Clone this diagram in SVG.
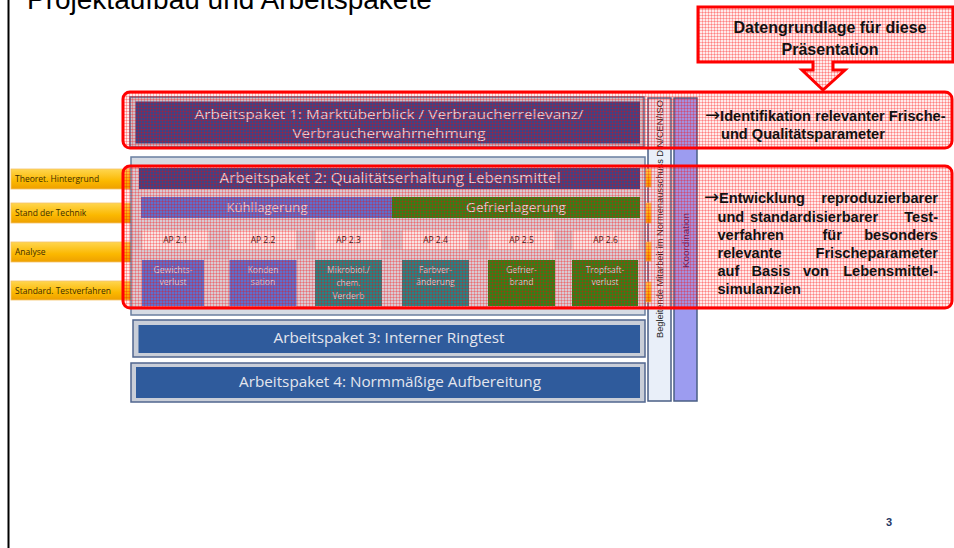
<svg xmlns="http://www.w3.org/2000/svg" width="954" height="548" viewBox="0 0 954 548">
<defs>
<pattern id="pink" width="3" height="3" patternUnits="userSpaceOnUse">
<rect width="3" height="3" fill="#ff0000" fill-opacity="0.08"/>
<rect width="3" height="1" fill="#ff0000" fill-opacity="0.26"/>
<rect width="1" height="3" fill="#ff0000" fill-opacity="0.26"/>
</pattern>
<linearGradient id="orange" x1="0" y1="0" x2="0" y2="1">
<stop offset="0" stop-color="#ffd650"/>
<stop offset="0.6" stop-color="#fbb800"/>
<stop offset="1" stop-color="#eea000"/>
</linearGradient>
<style>
.t{font-family:"Liberation Sans",Arial,sans-serif}
.lbl{font-family:"Open Sans","Liberation Sans",sans-serif;fill:#e4e6ee;text-anchor:middle}
.sm{font-family:"Open Sans","Liberation Sans",sans-serif;font-size:8.5px;fill:#dde3ee;text-anchor:middle}
.ap{font-family:"Open Sans","Liberation Sans",sans-serif;font-size:8.5px;fill:#222;text-anchor:middle}
.or{font-family:"Open Sans","Liberation Sans",sans-serif;font-size:8.5px;fill:#3d2c00}
.outer{fill:#c9ced8;stroke:#50668f;stroke-width:1.5}
.navy{fill:#2e4a90}
.blue{fill:#2f5b9c}
.orect{fill:url(#orange);stroke:#f5c26a;stroke-width:0.8}
.apl{fill:#f6f6f6;stroke:#d0d0d0;stroke-width:0.8}
.kb{fill:#5078dc}
.tb{fill:#148e90}
.gb{fill:#1f8c1c}
.red{fill:url(#pink);stroke:#ff0000;stroke-width:3}
.bt{font-family:"Liberation Sans",Arial,sans-serif;font-weight:bold;font-size:14.6px;fill:#111}
.ar{font-family:"DejaVu Sans",sans-serif;font-weight:normal;font-size:18px}
.col{stroke:#4a5f85;stroke-width:1.5}
</style>
</defs>
<rect width="954" height="548" fill="#ffffff"/>
<line x1="8.5" y1="0" x2="8.5" y2="548" stroke="#000" stroke-width="2"/>
<text class="t" x="27" y="9" font-size="28" fill="#000">Projektaufbau und Arbeitspakete</text>

<g id="left-labels">
<g id="lbl-theoret"><rect class="orect" x="11" y="169" width="122" height="20"/><text class="or" x="15" y="182">Theoret. Hintergrund</text></g>
<g id="lbl-stand"><rect class="orect" x="11" y="203" width="122" height="20"/><text class="or" x="15" y="216">Stand der Technik</text></g>
<g id="lbl-analyse"><rect class="orect" x="11" y="242" width="122" height="20"/><text class="or" x="15" y="255">Analyse</text></g>
<g id="lbl-standard"><rect class="orect" x="11" y="281" width="122" height="19"/><text class="or" x="15" y="294">Standard. Testverfahren</text></g>
</g>

<g id="ap1">
<rect class="outer" x="130" y="97" width="514" height="50"/>
<rect class="navy" x="135.5" y="101.5" width="504.5" height="42"/>
<text class="lbl" x="389" y="119" font-size="13.5" textLength="389" lengthAdjust="spacingAndGlyphs">Arbeitspaket 1: Marktüberblick / Verbraucherrelevanz/</text>
<text class="lbl" x="389" y="138" font-size="13.5" textLength="193" lengthAdjust="spacingAndGlyphs">Verbraucherwahrnehmung</text>
</g>

<g id="ap2">
<rect x="131" y="157" width="514" height="158" fill="#d6dbe4" stroke="#6a7fa0" stroke-width="1.5"/>
<rect class="navy" x="139" y="168" width="501" height="21"/>
<text class="lbl" x="390" y="183" font-size="14" textLength="341" lengthAdjust="spacingAndGlyphs">Arbeitspaket 2: Qualitätserhaltung Lebensmittel</text>
<g id="kuehl"><rect class="kb" x="141" y="197" width="251" height="21"/><text class="lbl" x="267" y="212" font-size="12" textLength="81" lengthAdjust="spacingAndGlyphs">Kühllagerung</text></g>
<g id="gefrier"><rect class="gb" x="392" y="197" width="248" height="21"/><text class="lbl" x="516" y="212" font-size="12" textLength="100" lengthAdjust="spacingAndGlyphs">Gefrierlagerung</text></g>
<g id="ap21"><rect class="apl" x="142" y="230" width="67" height="20"/><text class="ap" x="175.5" y="243">AP 2.1</text>
<rect class="kb" x="142" y="260" width="62" height="46"/><text class="sm" x="173" y="273">Gewichts-</text><text class="sm" x="173" y="285">verlust</text></g>
<g id="ap22"><rect class="apl" x="229.5" y="230" width="67" height="20"/><text class="ap" x="263" y="243">AP 2.2</text>
<rect class="kb" x="229.5" y="260" width="67" height="46"/><text class="sm" x="263" y="273">Konden</text><text class="sm" x="263" y="285">sation</text></g>
<g id="ap23"><rect class="apl" x="315" y="230" width="67" height="20" stroke="#8090b0"/><text class="ap" x="348.5" y="243">AP 2.3</text>
<rect class="tb" x="315" y="260" width="67" height="46"/><text class="sm" x="348.5" y="273">Mikrobiol./</text><text class="sm" x="348.5" y="286">chem.</text><text class="sm" x="348.5" y="299">Verderb</text></g>
<g id="ap24"><rect class="apl" x="402" y="230" width="67" height="20"/><text class="ap" x="435.5" y="243">AP 2.4</text>
<rect class="tb" x="402" y="260" width="67" height="46"/><text class="sm" x="435.5" y="273">Farbver-</text><text class="sm" x="435.5" y="285">änderung</text></g>
<g id="ap25"><rect class="apl" x="488" y="230" width="67" height="20"/><text class="ap" x="521.5" y="243">AP 2.5</text>
<rect class="gb" x="488" y="260" width="67" height="46"/><text class="sm" x="521.5" y="273">Gefrier-</text><text class="sm" x="521.5" y="285">brand</text></g>
<g id="ap26"><rect class="apl" x="572" y="230" width="67" height="20"/><text class="ap" x="605.5" y="243">AP 2.6</text>
<rect class="gb" x="572" y="260" width="66" height="46"/><text class="sm" x="605" y="273">Tropfsaft-</text><text class="sm" x="605" y="285">verlust</text></g>
</g>

<g id="ap3">
<rect class="outer" x="133" y="320" width="512" height="37"/>
<rect class="blue" x="138.5" y="325" width="501.5" height="28"/>
<text class="lbl" x="389" y="343" font-size="15" textLength="231" lengthAdjust="spacingAndGlyphs">Arbeitspaket 3: Interner Ringtest</text>
</g>

<g id="ap4">
<rect class="outer" x="131" y="363" width="514" height="39"/>
<rect class="blue" x="136" y="367" width="504" height="31"/>
<text class="lbl" x="390" y="387" font-size="15" textLength="302" lengthAdjust="spacingAndGlyphs">Arbeitspaket 4: Normmäßige Aufbereitung</text>
</g>

<g id="col-begleitend">
<rect class="col" x="648" y="98" width="23" height="303" fill="#e9eff9"/>
<text class="t" transform="translate(663,338) rotate(-90)" font-size="8.5" fill="#222" textLength="238" lengthAdjust="spacingAndGlyphs">Begleitende Mitarbeit im Normenausschuss DIN/CEN/ISO</text>
</g>
<g id="col-koordination">
<rect class="col" x="674" y="98" width="23" height="303" fill="#9c9cf0"/>
<text class="t" transform="translate(689,268) rotate(-90)" font-size="8.5" fill="#4a2a70" textLength="55" lengthAdjust="spacingAndGlyphs">Koordination</text>
</g>
<g id="right-tabs">
<rect class="orect" x="646" y="169" width="5" height="18"/>
<rect class="orect" x="646" y="203" width="5" height="20"/>
<rect class="orect" x="646" y="242" width="5" height="19"/>
<rect class="orect" x="646" y="282" width="5" height="20"/>
</g>

<g id="callout">
<path class="red" stroke-width="2.5" d="M698,7 H953 V62 H833 V70 H845 L823,90 L802,70 H813 V62 H698 Z"/>
<text class="t" x="830" y="33" font-size="16" font-weight="bold" fill="#111" text-anchor="middle">Datengrundlage für diese</text>
<text class="t" x="830" y="55" font-size="16" font-weight="bold" fill="#111" text-anchor="middle">Präsentation</text>
</g>

<g id="box1">
<rect class="red" x="123" y="92" width="829" height="56" rx="7"/>
<text class="bt" x="705" y="120.5"><tspan class="ar">→</tspan>Identifikation relevanter Frische-</text>
<text class="bt" x="721" y="139">und Qualitätsparameter</text>
</g>

<g id="box2">
<rect class="red" x="123" y="166" width="829" height="142" rx="7"/>
<text class="bt" x="704" y="203"><tspan class="ar">→</tspan>Entwicklung</text><text class="bt" x="938" y="203" text-anchor="end">reproduzierbarer</text>
<text class="bt" x="717.5" y="221.5">und</text><text class="bt" x="750" y="221.5">standardisierbarer</text><text class="bt" x="938" y="221.5" text-anchor="end">Test-</text>
<text class="bt" x="717.5" y="239.5">verfahren</text><text class="bt" x="822.5" y="239.5">für</text><text class="bt" x="938" y="239.5" text-anchor="end">besonders</text>
<text class="bt" x="717.5" y="257.5">relevante</text><text class="bt" x="938" y="257.5" text-anchor="end">Frischeparameter</text>
<text class="bt" x="717.5" y="275.5">auf</text><text class="bt" x="751.5" y="275.5">Basis</text><text class="bt" x="803" y="275.5">von</text><text class="bt" x="938" y="275.5" text-anchor="end">Lebensmittel-</text>
<text class="bt" x="717.5" y="294">simulanzien</text>
</g>

<g id="connectors"></g>

<text class="t" x="889" y="526" font-size="11" font-weight="bold" fill="#1f3864" text-anchor="middle">3</text>
</svg>
